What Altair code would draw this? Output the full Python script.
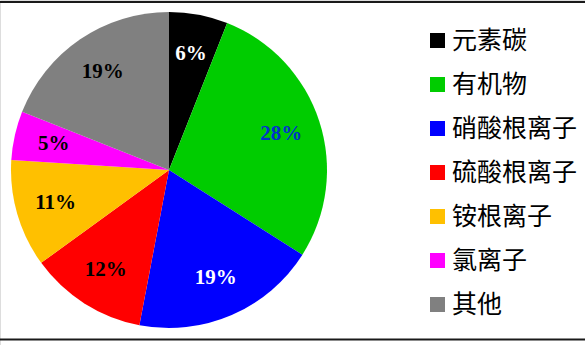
import altair as alt
import pandas as pd

categories = ["元素碳", "有机物", "硝酸根离子", "硫酸根离子", "铵根离子", "氯离子", "其他"]
values = [6, 28, 19, 12, 11, 5, 19]
labels = ["6%", "28%", "19%", "12%", "11%", "5%", "19%"]

slice_colors = ["#000000", "#00CC00", "#0000FF", "#FF0000", "#FFC000", "#FF00FF", "#808080"]
text_colors = ["#FFFFFF", "#0033CC", "#FFFFFF", "#000000", "#000000", "#000000", "#000000"]

df = pd.DataFrame({
    "cat": categories,
    "value": values,
    "label": labels,
    "idx": list(range(len(categories))),
})

CX, CY, R = 169, 170, 158

base = alt.Chart(df).encode(
    theta=alt.Theta("value:Q", stack=True),
    order=alt.Order("idx:Q"),
    x=alt.value(CX),
    y=alt.value(CY),
)

arcs = base.mark_arc(outerRadius=R).encode(
    color=alt.Color(
        "cat:N",
        scale=alt.Scale(domain=categories, range=slice_colors),
        sort=categories,
        legend=alt.Legend(
            title=None,
            orient="none",
            legendX=425,
            legendY=28,
            padding=0,
            symbolType="square",
            symbolSize=225,
            symbolStrokeWidth=0,
            symbolOpacity=1,
            labelFont="Noto Sans CJK SC",
            labelFontSize=25,
            labelColor="#000000",
            labelOffset=2,
            rowPadding=18,
            labelLimit=300,
        ),
    )
)

texts = base.mark_text(
    radius=118,
    font="Liberation Serif",
    fontSize=21,
    fontWeight="bold",
    align="center",
    baseline="middle",
).encode(
    text="label:N",
    color=alt.Color(
        "cat:N",
        scale=alt.Scale(domain=categories, range=text_colors),
        legend=None,
    ),
)

one = alt.Data(values=[{"a": 0}])
top_rule = alt.Chart(one).mark_rule(color="#1a1a1a", strokeWidth=2).encode(
    x=alt.value(0), x2=alt.value(585), y=alt.value(2)
)
bottom_rule = alt.Chart(one).mark_rule(color="#1a1a1a", strokeWidth=2).encode(
    x=alt.value(0), x2=alt.value(585), y=alt.value(339.5)
)

chart = alt.layer(arcs, texts, top_rule, bottom_rule).resolve_scale(color="independent").properties(
    width=585,
    height=345,
    autosize=alt.AutoSizeParams(type="none"),
    padding=0,
).configure_view(stroke=None).configure(background="white")

chart.save("out.html", embed_options={"renderer": "svg", "actions": False})
